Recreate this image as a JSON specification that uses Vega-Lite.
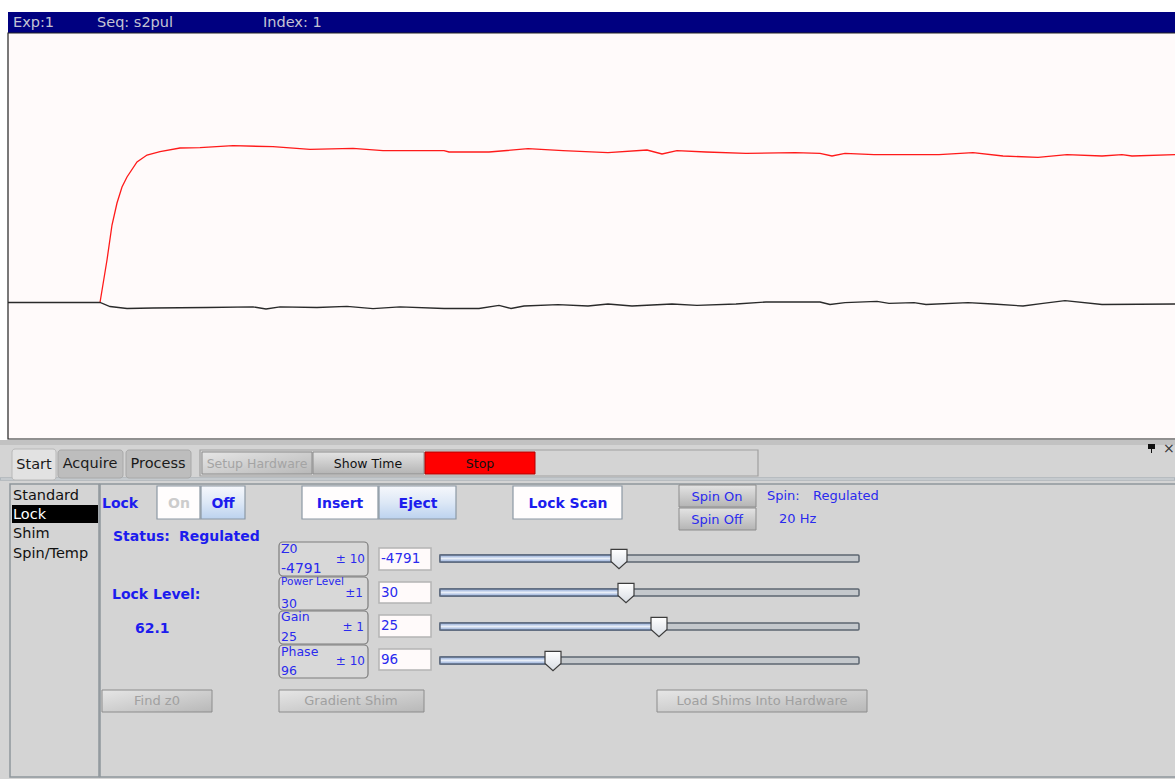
{
  "$schema": "https://vega.github.io/schema/vega-lite/v6.json",
  "width": 1175,
  "height": 779,
  "autosize": "none",
  "padding": 0,
  "background": "#ffffff",
  "config": {"view": {"stroke": null}, "text": {"font": "DejaVu Sans"}},
  "datasets": {
    "boxes": [
      {"kind": "titlebar", "x": 8, "x2": 1175, "y": 12, "y2": 33},
      {"kind": "plot", "x": 8, "x2": 1176, "y": 33, "y2": 439},
      {"kind": "panel", "x": 0, "x2": 1175, "y": 440, "y2": 779},
      {"kind": "panelTop", "x": 0, "x2": 1175, "y": 440, "y2": 445},
      {"kind": "tabSel", "x": 12, "x2": 56, "y": 449, "y2": 480},
      {"kind": "tab", "x": 58, "x2": 123, "y": 450, "y2": 478},
      {"kind": "tab", "x": 126, "x2": 191, "y": 450, "y2": 478},
      {"kind": "toolbar", "x": 200, "x2": 758, "y": 450, "y2": 476},
      {"kind": "btnDis", "x": 202, "x2": 312, "y": 452, "y2": 474},
      {"kind": "btnGray", "x": 313, "x2": 424, "y": 452, "y2": 474},
      {"kind": "btnStop", "x": 425, "x2": 535, "y": 452, "y2": 474},
      {"kind": "sep", "x": 0, "x2": 1175, "y": 478, "y2": 480},
      {"kind": "list", "x": 10, "x2": 99, "y": 484, "y2": 777},
      {"kind": "list", "x": 100, "x2": 1176, "y": 484, "y2": 777},
      {"kind": "listSel", "x": 12, "x2": 98, "y": 505, "y2": 523},
      {"kind": "btnWhite", "x": 157, "x2": 200, "y": 486, "y2": 519},
      {"kind": "btnBlue", "x": 201, "x2": 245, "y": 486, "y2": 519},
      {"kind": "btnWhite", "x": 302, "x2": 378, "y": 486, "y2": 519},
      {"kind": "btnBlue", "x": 379, "x2": 456, "y": 486, "y2": 519},
      {"kind": "btnWhite", "x": 513, "x2": 622, "y": 486, "y2": 519},
      {"kind": "btnGray", "x": 679, "x2": 756, "y": 485, "y2": 507},
      {"kind": "btnGray", "x": 679, "x2": 756, "y": 508, "y2": 530},
      {"kind": "param", "x": 279, "x2": 368, "y": 542, "y2": 576},
      {"kind": "param", "x": 279, "x2": 368, "y": 577, "y2": 610},
      {"kind": "param", "x": 279, "x2": 368, "y": 611, "y2": 644},
      {"kind": "param", "x": 279, "x2": 368, "y": 645, "y2": 678},
      {"kind": "input", "x": 379, "x2": 431, "y": 548, "y2": 570},
      {"kind": "input", "x": 379, "x2": 431, "y": 582, "y2": 603},
      {"kind": "input", "x": 379, "x2": 431, "y": 615, "y2": 637},
      {"kind": "input", "x": 379, "x2": 431, "y": 649, "y2": 670},
      {"kind": "trackR", "x": 440, "x2": 859, "y": 555, "y2": 562},
      {"kind": "trackR", "x": 440, "x2": 859, "y": 589, "y2": 596},
      {"kind": "trackR", "x": 440, "x2": 859, "y": 623, "y2": 630},
      {"kind": "trackR", "x": 440, "x2": 859, "y": 657, "y2": 664},
      {"kind": "trackL", "x": 440, "x2": 619, "y": 555, "y2": 562},
      {"kind": "trackL", "x": 440, "x2": 626, "y": 589, "y2": 596},
      {"kind": "trackL", "x": 440, "x2": 659, "y": 623, "y2": 630},
      {"kind": "trackL", "x": 440, "x2": 553, "y": 657, "y2": 664},
      {"kind": "btnDis", "x": 102, "x2": 212, "y": 690, "y2": 712},
      {"kind": "btnDis", "x": 279, "x2": 424, "y": 690, "y2": 712},
      {"kind": "btnDis", "x": 657, "x2": 867, "y": 690, "y2": 712},
      {"kind": "pin", "x": 1148, "x2": 1155, "y": 444, "y2": 449},
      {"kind": "pin", "x": 1151, "x2": 1152, "y": 449, "y2": 453}
    ],
    "thumbs": [
      {"slider": "Z0", "x": 619, "y": 559},
      {"slider": "Power Level", "x": 626, "y": 593},
      {"slider": "Gain", "x": 659, "y": 627},
      {"slider": "Phase", "x": 553, "y": 661}
    ],
    "labels": [
      {"kind": "title", "text": "Exp:1", "x": 13, "y": 23},
      {"kind": "title", "text": "Seq: s2pul", "x": 97, "y": 23},
      {"kind": "title", "text": "Index: 1", "x": 263, "y": 23},
      {"kind": "tab", "text": "Start", "x": 34, "y": 465},
      {"kind": "tab", "text": "Acquire", "x": 90, "y": 464},
      {"kind": "tab", "text": "Process", "x": 158, "y": 464},
      {"kind": "tbDis", "text": "Setup Hardware", "x": 257, "y": 464},
      {"kind": "tb", "text": "Show Time", "x": 368, "y": 464},
      {"kind": "tbStop", "text": "Stop", "x": 480, "y": 464},
      {"kind": "list", "text": "Standard", "x": 13, "y": 496},
      {"kind": "listSel", "text": "Lock", "x": 13, "y": 515},
      {"kind": "list", "text": "Shim", "x": 13, "y": 534},
      {"kind": "list", "text": "Spin/Temp", "x": 13, "y": 554},
      {"kind": "blueBoldL", "text": "Lock", "x": 102, "y": 504},
      {"kind": "grayBoldC", "text": "On", "x": 179, "y": 504},
      {"kind": "blueBoldC", "text": "Off", "x": 223, "y": 504},
      {"kind": "blueBoldC", "text": "Insert", "x": 340, "y": 504},
      {"kind": "blueBoldC", "text": "Eject", "x": 418, "y": 504},
      {"kind": "blueBoldC", "text": "Lock Scan", "x": 568, "y": 504},
      {"kind": "blueC", "text": "Spin On", "x": 717, "y": 497},
      {"kind": "blueC", "text": "Spin Off", "x": 717, "y": 520},
      {"kind": "blueL", "text": "Spin:", "x": 767, "y": 496},
      {"kind": "blueL", "text": "Regulated", "x": 813, "y": 496},
      {"kind": "blueL", "text": "20 Hz", "x": 779, "y": 519},
      {"kind": "blueBoldL", "text": "Status:", "x": 113, "y": 537},
      {"kind": "blueBoldL", "text": "Regulated", "x": 179, "y": 537},
      {"kind": "blueBoldL", "text": "Lock Level:", "x": 112, "y": 595},
      {"kind": "blueBoldL", "text": "62.1", "x": 135, "y": 629},
      {"kind": "paramL", "text": "Z0", "x": 281, "y": 549},
      {"kind": "paramVal", "text": "-4791", "x": 281, "y": 569},
      {"kind": "paramR", "text": "± 10", "x": 365, "y": 559},
      {"kind": "paramTiny", "text": "Power Level", "x": 281, "y": 582},
      {"kind": "paramR", "text": "±1", "x": 363, "y": 593},
      {"kind": "paramS", "text": "30", "x": 281, "y": 604},
      {"kind": "paramL", "text": "Gain", "x": 281, "y": 617},
      {"kind": "paramR", "text": "± 1", "x": 364, "y": 627},
      {"kind": "paramS", "text": "25", "x": 281, "y": 637},
      {"kind": "paramL", "text": "Phase", "x": 281, "y": 652},
      {"kind": "paramR", "text": "± 10", "x": 365, "y": 661},
      {"kind": "paramS", "text": "96", "x": 281, "y": 671},
      {"kind": "inputT", "text": "-4791", "x": 381, "y": 559},
      {"kind": "inputT", "text": "30", "x": 381, "y": 593},
      {"kind": "inputT", "text": "25", "x": 381, "y": 626},
      {"kind": "inputT", "text": "96", "x": 381, "y": 660},
      {"kind": "disC", "text": "Find z0", "x": 157, "y": 701},
      {"kind": "disC", "text": "Gradient Shim", "x": 351, "y": 701},
      {"kind": "disC", "text": "Load Shims Into Hardware", "x": 762, "y": 701},
      {"kind": "icon", "text": "×", "x": 1163, "y": 449}
    ],
    "traces": [
      {"series": "ref", "x": 8, "y": 302.5},
      {"series": "ref", "x": 100, "y": 302.5},
      {"series": "ref", "x": 110, "y": 306.5},
      {"series": "ref", "x": 127, "y": 308.5},
      {"series": "ref", "x": 153, "y": 308},
      {"series": "ref", "x": 207, "y": 307.5},
      {"series": "ref", "x": 253, "y": 306.8},
      {"series": "ref", "x": 266, "y": 309},
      {"series": "ref", "x": 280, "y": 306.8},
      {"series": "ref", "x": 317, "y": 307.5},
      {"series": "ref", "x": 347, "y": 306.3},
      {"series": "ref", "x": 373, "y": 308.7},
      {"series": "ref", "x": 400, "y": 306.8},
      {"series": "ref", "x": 444, "y": 308.5},
      {"series": "ref", "x": 479, "y": 308.5},
      {"series": "ref", "x": 499, "y": 305.3},
      {"series": "ref", "x": 511, "y": 308.5},
      {"series": "ref", "x": 524, "y": 306},
      {"series": "ref", "x": 558, "y": 304.7},
      {"series": "ref", "x": 588, "y": 306},
      {"series": "ref", "x": 608, "y": 304},
      {"series": "ref", "x": 632, "y": 306},
      {"series": "ref", "x": 672, "y": 304},
      {"series": "ref", "x": 697, "y": 305.3},
      {"series": "ref", "x": 736, "y": 304},
      {"series": "ref", "x": 766, "y": 302},
      {"series": "ref", "x": 820, "y": 302},
      {"series": "ref", "x": 830, "y": 304.5},
      {"series": "ref", "x": 845, "y": 302.7},
      {"series": "ref", "x": 877, "y": 301.3},
      {"series": "ref", "x": 889, "y": 303.3},
      {"series": "ref", "x": 914, "y": 302.7},
      {"series": "ref", "x": 926, "y": 304.5},
      {"series": "ref", "x": 968, "y": 302.7},
      {"series": "ref", "x": 993, "y": 304},
      {"series": "ref", "x": 1023, "y": 306},
      {"series": "ref", "x": 1043, "y": 303.3},
      {"series": "ref", "x": 1065, "y": 300.7},
      {"series": "ref", "x": 1102, "y": 304.5},
      {"series": "ref", "x": 1175, "y": 304},
      {"series": "lock", "x": 100, "y": 302.5},
      {"series": "lock", "x": 107, "y": 260},
      {"series": "lock", "x": 112, "y": 225},
      {"series": "lock", "x": 117, "y": 203},
      {"series": "lock", "x": 122, "y": 187},
      {"series": "lock", "x": 127, "y": 177},
      {"series": "lock", "x": 137, "y": 162},
      {"series": "lock", "x": 147, "y": 155},
      {"series": "lock", "x": 160, "y": 151.7},
      {"series": "lock", "x": 180, "y": 148},
      {"series": "lock", "x": 200, "y": 147.7},
      {"series": "lock", "x": 233, "y": 145.7},
      {"series": "lock", "x": 273, "y": 146.7},
      {"series": "lock", "x": 310, "y": 149.3},
      {"series": "lock", "x": 353, "y": 148.3},
      {"series": "lock", "x": 383, "y": 150.7},
      {"series": "lock", "x": 444, "y": 150.7},
      {"series": "lock", "x": 449, "y": 152},
      {"series": "lock", "x": 489, "y": 152},
      {"series": "lock", "x": 528, "y": 148.7},
      {"series": "lock", "x": 563, "y": 150.7},
      {"series": "lock", "x": 608, "y": 152.7},
      {"series": "lock", "x": 647, "y": 150},
      {"series": "lock", "x": 662, "y": 154},
      {"series": "lock", "x": 677, "y": 150.7},
      {"series": "lock", "x": 706, "y": 152},
      {"series": "lock", "x": 746, "y": 153.3},
      {"series": "lock", "x": 795, "y": 152.7},
      {"series": "lock", "x": 820, "y": 153.3},
      {"series": "lock", "x": 832, "y": 156},
      {"series": "lock", "x": 845, "y": 153.3},
      {"series": "lock", "x": 874, "y": 154.7},
      {"series": "lock", "x": 939, "y": 154.7},
      {"series": "lock", "x": 973, "y": 152.7},
      {"series": "lock", "x": 1003, "y": 156},
      {"series": "lock", "x": 1038, "y": 157.3},
      {"series": "lock", "x": 1067, "y": 154.7},
      {"series": "lock", "x": 1102, "y": 156},
      {"series": "lock", "x": 1122, "y": 154.7},
      {"series": "lock", "x": 1132, "y": 156},
      {"series": "lock", "x": 1175, "y": 154.7}
    ]
  },
  "encoding": {
    "x": {"field": "x", "type": "quantitative", "scale": {"domain": [0, 1175], "nice": false, "zero": false}, "axis": null},
    "y": {"field": "y", "type": "quantitative", "scale": {"domain": [0, 779], "nice": false, "zero": false, "reverse": true}, "axis": null}
  },
  "layer": [
    {"data": {"name": "boxes"}, "transform": [{"filter": "datum.kind == 'titlebar'"}], "mark": {"type": "rect", "fill": "#000080"}, "encoding": {"x2": {"field": "x2"}, "y2": {"field": "y2"}}},
    {"data": {"name": "boxes"}, "transform": [{"filter": "datum.kind == 'plot'"}], "mark": {"type": "rect", "fill": "#fffafa", "stroke": "#222222", "strokeWidth": 1.2}, "encoding": {"x2": {"field": "x2"}, "y2": {"field": "y2"}}},
    {"data": {"name": "boxes"}, "transform": [{"filter": "datum.kind == 'panel'"}], "mark": {"type": "rect", "fill": "#d4d4d4"}, "encoding": {"x2": {"field": "x2"}, "y2": {"field": "y2"}}},
    {"data": {"name": "boxes"}, "transform": [{"filter": "datum.kind == 'panelTop'"}], "mark": {"type": "rect", "fill": "#c2c2c2"}, "encoding": {"x2": {"field": "x2"}, "y2": {"field": "y2"}}},
    {"data": {"name": "boxes"}, "transform": [{"filter": "datum.kind == 'sep'"}], "mark": {"type": "rect", "fill": "#f0f0f0", "stroke": "#9aa4ac", "strokeWidth": 1}, "encoding": {"x2": {"field": "x2"}, "y2": {"field": "y2"}}},
    {"data": {"name": "boxes"}, "transform": [{"filter": "datum.kind == 'list'"}], "mark": {"type": "rect", "fill": "#d4d4d4", "stroke": "#8e969c", "strokeWidth": 1.5}, "encoding": {"x2": {"field": "x2"}, "y2": {"field": "y2"}}},
    {"data": {"name": "boxes"}, "transform": [{"filter": "datum.kind == 'tab'"}], "mark": {"type": "rect", "fill": "#bdbdbd", "stroke": "#a8a8a8", "cornerRadius": 3}, "encoding": {"x2": {"field": "x2"}, "y2": {"field": "y2"}}},
    {"data": {"name": "boxes"}, "transform": [{"filter": "datum.kind == 'tabSel'"}], "mark": {"type": "rect", "fill": "#e2e2e2", "stroke": "#b8b8b8", "cornerRadius": 3}, "encoding": {"x2": {"field": "x2"}, "y2": {"field": "y2"}}},
    {"data": {"name": "boxes"}, "transform": [{"filter": "datum.kind == 'toolbar'"}], "mark": {"type": "rect", "fill": "#d4d4d4", "stroke": "#a0a0a0", "strokeWidth": 1.2}, "encoding": {"x2": {"field": "x2"}, "y2": {"field": "y2"}}},
    {"data": {"name": "boxes"}, "transform": [{"filter": "datum.kind == 'btnDis'"}], "mark": {"type": "rect", "stroke": "#8c8c8c", "fill": {"gradient": "linear", "x1": 0, "y1": 0, "x2": 1, "y2": 1, "stops": [{"offset": 0, "color": "#e6e6e6"}, {"offset": 1, "color": "#b8b8b8"}]}}, "encoding": {"x2": {"field": "x2"}, "y2": {"field": "y2"}}},
    {"data": {"name": "boxes"}, "transform": [{"filter": "datum.kind == 'btnGray'"}], "mark": {"type": "rect", "stroke": "#8c8c8c", "fill": {"gradient": "linear", "x1": 0, "y1": 0, "x2": 0, "y2": 1, "stops": [{"offset": 0, "color": "#e4e4e4"}, {"offset": 1, "color": "#b4b4b4"}]}}, "encoding": {"x2": {"field": "x2"}, "y2": {"field": "y2"}}},
    {"data": {"name": "boxes"}, "transform": [{"filter": "datum.kind == 'btnStop'"}], "mark": {"type": "rect", "fill": "#ff0000", "stroke": "#b00000"}, "encoding": {"x2": {"field": "x2"}, "y2": {"field": "y2"}}},
    {"data": {"name": "boxes"}, "transform": [{"filter": "datum.kind == 'btnWhite'"}], "mark": {"type": "rect", "fill": "#fffdfd", "stroke": "#8c98a4", "strokeWidth": 1.2}, "encoding": {"x2": {"field": "x2"}, "y2": {"field": "y2"}}},
    {"data": {"name": "boxes"}, "transform": [{"filter": "datum.kind == 'btnBlue'"}], "mark": {"type": "rect", "stroke": "#8c98a4", "strokeWidth": 1.2, "fill": {"gradient": "linear", "x1": 0, "y1": 0, "x2": 0, "y2": 1, "stops": [{"offset": 0, "color": "#f6f8fc"}, {"offset": 0.5, "color": "#dde8f6"}, {"offset": 1, "color": "#bcd2ee"}]}}, "encoding": {"x2": {"field": "x2"}, "y2": {"field": "y2"}}},
    {"data": {"name": "boxes"}, "transform": [{"filter": "datum.kind == 'listSel'"}], "mark": {"type": "rect", "fill": "#000000"}, "encoding": {"x2": {"field": "x2"}, "y2": {"field": "y2"}}},
    {"data": {"name": "boxes"}, "transform": [{"filter": "datum.kind == 'param'"}], "mark": {"type": "rect", "fill": "#d8d8d8", "stroke": "#7c7c7c", "strokeWidth": 1.2, "cornerRadius": 4}, "encoding": {"x2": {"field": "x2"}, "y2": {"field": "y2"}}},
    {"data": {"name": "boxes"}, "transform": [{"filter": "datum.kind == 'input'"}], "mark": {"type": "rect", "fill": "#fffafa", "stroke": "#b4b4b4", "strokeWidth": 1.5}, "encoding": {"x2": {"field": "x2"}, "y2": {"field": "y2"}}},
    {"data": {"name": "boxes"}, "transform": [{"filter": "datum.kind == 'trackR'"}], "mark": {"type": "rect", "fill": "#c4c8cc", "stroke": "#5c6670", "strokeWidth": 1.5, "cornerRadius": 1}, "encoding": {"x2": {"field": "x2"}, "y2": {"field": "y2"}}},
    {"data": {"name": "boxes"}, "transform": [{"filter": "datum.kind == 'trackL'"}], "mark": {"type": "rect", "stroke": "#5c6a80", "strokeWidth": 1.5, "fill": {"gradient": "linear", "x1": 0, "y1": 0, "x2": 0, "y2": 1, "stops": [{"offset": 0, "color": "#8aa6d6"}, {"offset": 0.5, "color": "#e8eef8"}, {"offset": 1, "color": "#8aa6d6"}]}}, "encoding": {"x2": {"field": "x2"}, "y2": {"field": "y2"}}},
    {"data": {"name": "boxes"}, "transform": [{"filter": "datum.kind == 'pin'"}], "mark": {"type": "rect", "fill": "#111111"}, "encoding": {"x2": {"field": "x2"}, "y2": {"field": "y2"}}},
    {"data": {"name": "thumbs"}, "mark": {"type": "point", "filled": true, "size": 256, "shape": "M -1 -1.2 L 1 -1.2 L 1 0.3 L 0 1.2 L -1 0.3 Z", "stroke": "#3c3c3c", "strokeWidth": 1.2, "opacity": 1, "fill": {"gradient": "linear", "x1": 0, "y1": 0, "x2": 0, "y2": 1, "stops": [{"offset": 0, "color": "#ffffff"}, {"offset": 1, "color": "#d8dde4"}]}}},
    {"data": {"name": "traces"}, "transform": [{"filter": "datum.series == 'lock'"}], "mark": {"type": "line", "strokeWidth": 1.3, "color": "#ff1a1a"}, "encoding": {}},
    {"data": {"name": "traces"}, "transform": [{"filter": "datum.series == 'ref'"}], "mark": {"type": "line", "strokeWidth": 1.3, "color": "#2a2a2a"}, "encoding": {}},
    {"data": {"name": "labels"}, "transform": [{"filter": "datum.kind == 'title'"}], "mark": {"type": "text", "align": "left", "baseline": "middle", "fontSize": 14.5, "color": "#c4c4d4"}, "encoding": {"text": {"field": "text"}}},
    {"data": {"name": "labels"}, "transform": [{"filter": "datum.kind == 'tab'"}], "mark": {"type": "text", "align": "center", "baseline": "middle", "fontSize": 14.5, "color": "#1a1a1a"}, "encoding": {"text": {"field": "text"}}},
    {"data": {"name": "labels"}, "transform": [{"filter": "datum.kind == 'tbDis'"}], "mark": {"type": "text", "align": "center", "baseline": "middle", "fontSize": 12.5, "color": "#a4a4a4"}, "encoding": {"text": {"field": "text"}}},
    {"data": {"name": "labels"}, "transform": [{"filter": "datum.kind == 'tb' || datum.kind == 'tbStop'"}], "mark": {"type": "text", "align": "center", "baseline": "middle", "fontSize": 12.5, "color": "#111111"}, "encoding": {"text": {"field": "text"}}},
    {"data": {"name": "labels"}, "transform": [{"filter": "datum.kind == 'list'"}], "mark": {"type": "text", "align": "left", "baseline": "middle", "fontSize": 14.5, "color": "#111111"}, "encoding": {"text": {"field": "text"}}},
    {"data": {"name": "labels"}, "transform": [{"filter": "datum.kind == 'listSel'"}], "mark": {"type": "text", "align": "left", "baseline": "middle", "fontSize": 14.5, "color": "#ffffff"}, "encoding": {"text": {"field": "text"}}},
    {"data": {"name": "labels"}, "transform": [{"filter": "datum.kind == 'blueBoldL'"}], "mark": {"type": "text", "align": "left", "baseline": "middle", "fontSize": 14, "fontWeight": "bold", "color": "#1c1cee"}, "encoding": {"text": {"field": "text"}}},
    {"data": {"name": "labels"}, "transform": [{"filter": "datum.kind == 'blueBoldC'"}], "mark": {"type": "text", "align": "center", "baseline": "middle", "fontSize": 14, "fontWeight": "bold", "color": "#1c1cee"}, "encoding": {"text": {"field": "text"}}},
    {"data": {"name": "labels"}, "transform": [{"filter": "datum.kind == 'grayBoldC'"}], "mark": {"type": "text", "align": "center", "baseline": "middle", "fontSize": 14, "fontWeight": "bold", "color": "#cccccc"}, "encoding": {"text": {"field": "text"}}},
    {"data": {"name": "labels"}, "transform": [{"filter": "datum.kind == 'blueC'"}], "mark": {"type": "text", "align": "center", "baseline": "middle", "fontSize": 13, "color": "#2a2aee"}, "encoding": {"text": {"field": "text"}}},
    {"data": {"name": "labels"}, "transform": [{"filter": "datum.kind == 'blueL'"}], "mark": {"type": "text", "align": "left", "baseline": "middle", "fontSize": 13, "color": "#2a2aee"}, "encoding": {"text": {"field": "text"}}},
    {"data": {"name": "labels"}, "transform": [{"filter": "datum.kind == 'paramL'"}], "mark": {"type": "text", "align": "left", "baseline": "middle", "fontSize": 12.5, "color": "#2a2aee"}, "encoding": {"text": {"field": "text"}}},
    {"data": {"name": "labels"}, "transform": [{"filter": "datum.kind == 'paramVal'"}], "mark": {"type": "text", "align": "left", "baseline": "middle", "fontSize": 14, "color": "#2a2aee"}, "encoding": {"text": {"field": "text"}}},
    {"data": {"name": "labels"}, "transform": [{"filter": "datum.kind == 'paramS'"}], "mark": {"type": "text", "align": "left", "baseline": "middle", "fontSize": 12.5, "color": "#2a2aee"}, "encoding": {"text": {"field": "text"}}},
    {"data": {"name": "labels"}, "transform": [{"filter": "datum.kind == 'paramTiny'"}], "mark": {"type": "text", "align": "left", "baseline": "middle", "fontSize": 10.5, "color": "#2a2aee"}, "encoding": {"text": {"field": "text"}}},
    {"data": {"name": "labels"}, "transform": [{"filter": "datum.kind == 'paramR'"}], "mark": {"type": "text", "align": "right", "baseline": "middle", "fontSize": 12, "color": "#2a2aee"}, "encoding": {"text": {"field": "text"}}},
    {"data": {"name": "labels"}, "transform": [{"filter": "datum.kind == 'inputT'"}], "mark": {"type": "text", "align": "left", "baseline": "middle", "fontSize": 13.5, "color": "#2a2aee"}, "encoding": {"text": {"field": "text"}}},
    {"data": {"name": "labels"}, "transform": [{"filter": "datum.kind == 'disC'"}], "mark": {"type": "text", "align": "center", "baseline": "middle", "fontSize": 13, "color": "#a0a0a0"}, "encoding": {"text": {"field": "text"}}},
    {"data": {"name": "labels"}, "transform": [{"filter": "datum.kind == 'icon'"}], "mark": {"type": "text", "align": "left", "baseline": "middle", "fontSize": 14, "color": "#333333"}, "encoding": {"text": {"field": "text"}}}
  ]
}
